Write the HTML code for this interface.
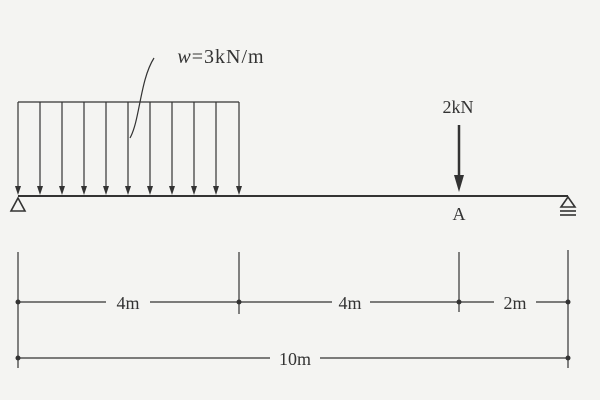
<!DOCTYPE html>
<html><head><style>body{margin:0;background:#f4f4f2}svg{display:block}</style></head><body>
<svg width="600" height="400" viewBox="0 0 600 400" xmlns="http://www.w3.org/2000/svg">
<rect width="600" height="400" fill="#f4f4f2"/>
<g stroke="#333" fill="none" stroke-width="1.2">
<line x1="18" y1="102" x2="239" y2="102"/>
<line x1="18" y1="102" x2="18" y2="188"/>
<line x1="40" y1="102" x2="40" y2="188"/>
<line x1="62" y1="102" x2="62" y2="188"/>
<line x1="84" y1="102" x2="84" y2="188"/>
<line x1="106" y1="102" x2="106" y2="188"/>
<line x1="128" y1="102" x2="128" y2="188"/>
<line x1="150" y1="102" x2="150" y2="188"/>
<line x1="172" y1="102" x2="172" y2="188"/>
<line x1="194" y1="102" x2="194" y2="188"/>
<line x1="216" y1="102" x2="216" y2="188"/>
<line x1="239" y1="102" x2="239" y2="188"/>
<path d="M130,138 C140,120 140,80 154,58"/>
<line x1="18" y1="196" x2="568" y2="196" stroke-width="2"/>
<path d="M18,198 L11,211 L25,211 Z" stroke-width="1.6"/>
<path d="M568,197 L561,207 L575,207 Z" stroke-width="1.6"/>
<line x1="560" y1="211" x2="576" y2="211" stroke-width="1.6"/>
<line x1="560" y1="215" x2="576" y2="215" stroke-width="1.6"/>
<line x1="459" y1="125" x2="459" y2="180" stroke-width="2.5"/>
<line x1="18" y1="252" x2="18" y2="368"/>
<line x1="239" y1="252" x2="239" y2="314"/>
<line x1="459" y1="252" x2="459" y2="312"/>
<line x1="568" y1="250" x2="568" y2="368"/>
<line x1="18" y1="302" x2="106" y2="302"/>
<line x1="150" y1="302" x2="332" y2="302"/>
<line x1="370" y1="302" x2="494" y2="302"/>
<line x1="536" y1="302" x2="568" y2="302"/>
<line x1="18" y1="358" x2="270" y2="358"/>
<line x1="320" y1="358" x2="568" y2="358"/>
</g>
<g fill="#333">
<path d="M15,186 L21,186 L18,195 Z"/><path d="M37,186 L43,186 L40,195 Z"/><path d="M59,186 L65,186 L62,195 Z"/><path d="M81,186 L87,186 L84,195 Z"/><path d="M103,186 L109,186 L106,195 Z"/><path d="M125,186 L131,186 L128,195 Z"/><path d="M147,186 L153,186 L150,195 Z"/><path d="M169,186 L175,186 L172,195 Z"/><path d="M191,186 L197,186 L194,195 Z"/><path d="M213,186 L219,186 L216,195 Z"/><path d="M236,186 L242,186 L239,195 Z"/>
<path d="M454,175 L464,175 L459,192 Z"/>
<circle cx="18" cy="302" r="2.5"/><circle cx="239" cy="302" r="2.5"/><circle cx="459" cy="302" r="2.5"/><circle cx="568" cy="302" r="2.5"/>
<circle cx="18" cy="358" r="2.5"/><circle cx="568" cy="358" r="2.5"/>
</g>
<g font-family="Liberation Serif, serif" font-size="18" fill="#333" text-anchor="middle">
<text x="221" y="63" font-size="20" letter-spacing="1"><tspan font-style="italic">w</tspan>=3kN/m</text>
<text x="458" y="113">2kN</text>
<text x="459" y="220">A</text>
<text x="128" y="309">4m</text>
<text x="350" y="309">4m</text>
<text x="515" y="309">2m</text>
<text x="295" y="365">10m</text>
</g>
</svg>
</body></html>
